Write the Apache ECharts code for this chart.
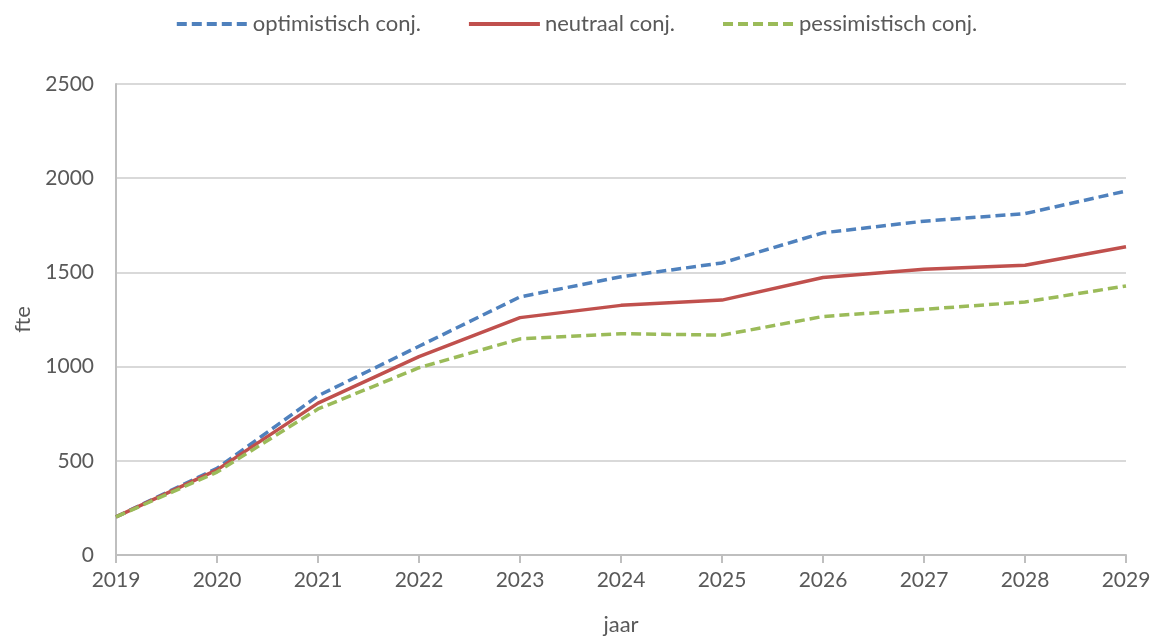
<!DOCTYPE html>
<html>
<head>
<meta charset="utf-8">
<script src="https://cdn.jsdelivr.net/npm/echarts@6/dist/echarts.min.js"></script>
<style>
  html, body { margin: 0; padding: 0; background: #fff; }
  #main { width: 1152px; height: 637px; }
</style>
</head>
<body>
<div id="main"></div>
<script>
// jaren en fte per scenario
var years = ["2019", "2020", "2021", "2022", "2023", "2024", "2025", "2026", "2027", "2028", "2029"];
var optimistisch = [202, 460, 845, 1108, 1370, 1477, 1550, 1710, 1772, 1812, 1932];
var neutraal = [202, 452, 806, 1053, 1260, 1325, 1353, 1473, 1517, 1538, 1636];
var pessimistisch = [202, 440, 775, 994, 1147, 1175, 1167, 1266, 1304, 1343, 1428];
var yTicks = [0, 500, 1000, 1500, 2000, 2500];

var font = "Lato";
var textColor = "#595959";

var myChart = echarts.init(document.getElementById("main"));

function line(name, data, color, dashed) {
    return {
        name: name,
        type: "line",
        data: data,
        symbol: "none",
        smooth: false,
        lineStyle: { color: color, width: 3.5, type: dashed ? [10, 5] : "solid" },
        itemStyle: { color: color }
    };
}

var options = {
    animation: false,
    textStyle: { fontFamily: font },
    legend: {
        top: 8,
        left: "center",
        itemWidth: 71,
        itemHeight: 6,
        itemGap: 46,
        itemStyle: { opacity: 0 },
        lineStyle: { width: 4 },
        textStyle: { fontFamily: font, fontSize: 22, color: textColor, padding: [0, 0, 0, 0] },
        data: ["optimistisch conj.", "neutraal conj.", "pessimistisch conj."]
    },
    grid: { left: 116, right: 26, top: 84, bottom: 82, outerBoundsMode: "none" },
    xAxis: {
        type: "category",
        data: years,
        boundaryGap: false,
        name: "jaar",
        nameLocation: "middle",
        nameGap: 59,
        nameTextStyle: { fontFamily: font, fontSize: 22, color: textColor },
        axisLine: { lineStyle: { color: "#bfbfbf", width: 2 } },
        axisTick: { show: true, length: 8, lineStyle: { color: "#bfbfbf", width: 2 } },
        axisLabel: { fontFamily: font, fontSize: 21, color: textColor, margin: 15 }
    },
    yAxis: {
        type: "value",
        min: yTicks[0],
        max: yTicks[yTicks.length - 1],
        interval: 500,
        name: "fte",
        nameLocation: "middle",
        nameGap: 80,
        nameTextStyle: { fontFamily: font, fontSize: 22, color: textColor },
        axisLine: { show: true, lineStyle: { color: "#bfbfbf", width: 2 } },
        axisTick: { show: false },
        axisLabel: {
            fontFamily: font, fontSize: 21, color: textColor, margin: 22,
            formatter: function (v) { return String(v); }
        },
        splitLine: { lineStyle: { color: "#d9d9d9", width: 2 } }
    },
    series: [
        line("optimistisch conj.", optimistisch, "#4f81bd", true),
        line("neutraal conj.", neutraal, "#c0504d", false),
        line("pessimistisch conj.", pessimistisch, "#9bbb59", true)
    ]
};

myChart.setOption(options);
</script>
</body>
</html>
